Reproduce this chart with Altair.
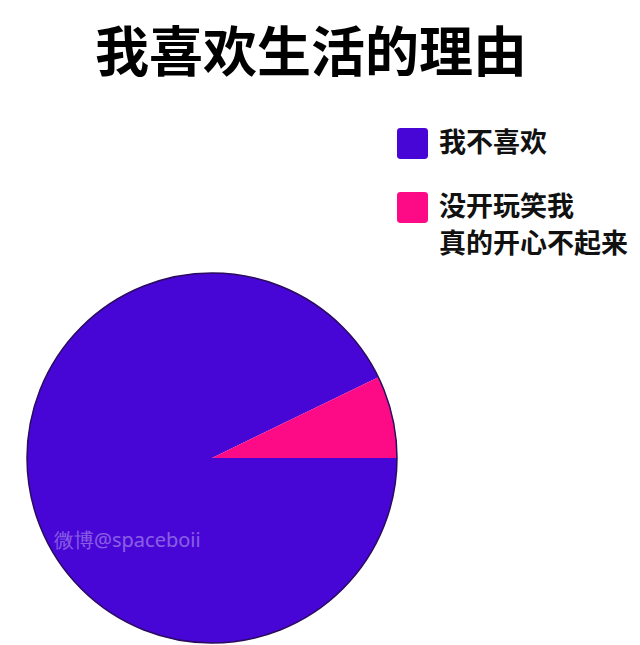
import altair as alt
import pandas as pd

categories = ["我不喜欢", "没开玩笑我|真的开心不起来"]
values = [92.8, 7.2]
colors = ["#4806d6", "#fd0b86"]
title_text = "我喜欢生活的理由"
watermark = "微博@spaceboii"

PAD_TOP = 100
CX, CY, R = 212, 458 - PAD_TOP, 185

df = pd.DataFrame({"cat": categories, "val": values, "idx": list(range(len(categories)))})

FONT = "Noto Sans CJK SC"

rounded_sq = ("M -0.78 -1 H 0.78 Q 1 -1 1 -0.78 V 0.78 Q 1 1 0.78 1 H -0.78 "
              "Q -1 1 -1 0.78 V -0.78 Q -1 -1 -0.78 -1 Z")

pie = alt.Chart(df).mark_arc(radius=R, stroke=None).encode(
    x=alt.value(CX),
    y=alt.value(CY),
    theta=alt.Theta("val:Q", stack=True, scale=alt.Scale(range=[1.5708, 1.5708 + 6.28319])),
    order=alt.Order("idx:Q"),
    color=alt.Color(
        "cat:N",
        sort=categories,
        scale=alt.Scale(domain=categories, range=colors),
        legend=alt.Legend(
            title=None,
            orient="none",
            legendX=397,
            legendY=128 - PAD_TOP,
            padding=0,
            symbolType=rounded_sq,
            symbolSize=961,
            symbolStrokeWidth=0,
            symbolOpacity=1,
            labelExpr="split(datum.label, '|')",
            labelFont=FONT,
            labelFontSize=27,
            labelFontWeight="bold",
            labelColor="#111111",
            labelLimit=400,
            labelOffset=11,
            labelBaseline="middle",
            rowPadding=33,
        ),
    ),
)

outline = alt.Chart(pd.DataFrame({"a": [0]})).mark_arc(
    radius=R, fillOpacity=0, stroke="#2a0b5e", strokeWidth=1.5
).encode(
    x=alt.value(CX),
    y=alt.value(CY),
    theta=alt.value(0),
    theta2=alt.value(6.2832),
)

wm = alt.Chart(pd.DataFrame({"t": [watermark]})).mark_text(
    font="Noto Sans", fontSize=20, fontWeight="normal", color="#ffffff", opacity=0.35, align="left"
).encode(
    x=alt.value(54),
    y=alt.value(541 - PAD_TOP),
    text="t:N",
)

chart = alt.layer(pie, outline, wm).properties(
    width=640,
    height=645 - PAD_TOP,
    padding={"top": PAD_TOP, "left": 0, "right": 0, "bottom": 0},
    autosize=alt.AutoSizeParams(type="none"),
    title=alt.TitleParams(
        title_text,
        font=FONT,
        fontSize=54,
        fontWeight="bold",
        color="#000000",
        anchor="middle",
        dx=-9,
        offset=17,
    ),
).configure(
    background="#ffffff",
    view={"stroke": "transparent", "strokeWidth": 0},
    style={"guide-label": {"lineHeight": 37}},
)

chart.save("out.html", embed_options={"renderer": "svg", "actions": False})
